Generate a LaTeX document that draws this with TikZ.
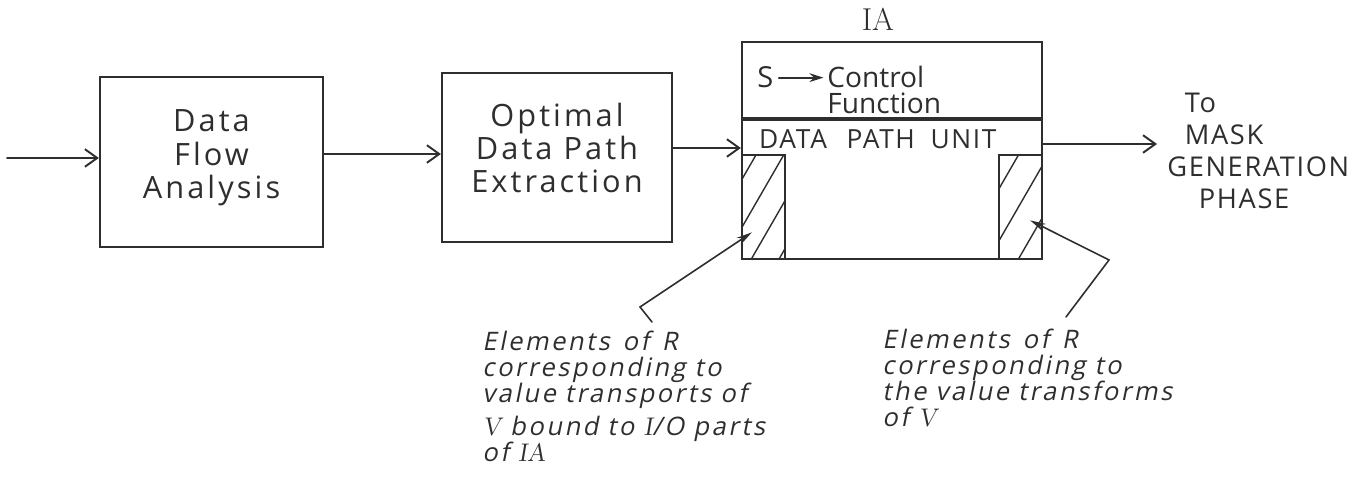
\documentclass[tikz,border=0pt]{standalone}
\usepackage{fontspec}
\usepackage{tikz}
\usetikzlibrary{arrows.meta, positioning, calc}
\newfontfamily\lettering{Open Sans}
\newfontfamily\slantlettering[FakeSlant=0.2]{Open Sans}
\newcommand\romanslant[1]{{\rmfamily\slshape #1}}
\definecolor{InkGray}{HTML}{2E2E2E}

\begin{document}
\begin{tikzpicture}[x=0.02cm, y=-0.02cm, line cap=round,
    every node/.style={inner sep=0pt, text=InkGray},
    stage/.style={draw=InkGray, line width=1.3pt, minimum width=#1, minimum height=3.4cm,
        align=center, font={\lettering\addfontfeatures{LetterSpace=10}\fontsize{17.5}{19}\selectfont}},
    part/.style={draw=InkGray, line width=1.3pt, minimum width=6cm, minimum height=#1},
    strip/.style={draw=InkGray, line width=1.1pt, minimum width=0.86cm, minimum height=2.08cm,
        path picture={\foreach \k in {#1}
            \draw[InkGray, line width=0.8pt] ([yshift=-\k*0.02cm]path picture bounding box.north west)
                ++(240:2cm) -- ++(60:6cm);}},
    flow/.style={draw=InkGray, line width=1.1pt, -{Straight Barb[length=7pt,width=10pt]}},
    lead/.style={draw=InkGray, line width=0.9pt, -{Stealth[length=9pt,width=4.5pt]}},
    note/.style={align=left, font={\slantlettering\addfontfeatures{LetterSpace=10}\fontsize{14.5}{14.8}\selectfont}},
]
\useasboundingbox (0,0) rectangle (1367,479);

\node[stage=4.46cm, text depth=9pt] (box1) at (211.5,162) {Data\\Flow\\Analysis};
\node[stage=4.6cm, minimum height=3.38cm, text depth=11pt] (box2) at (557,157.5) {Optimal\\Data Path\\Extraction};

\node[part=1.52cm] (ctrl) at (892,80) {};
\node[part=2.78cm, below=0pt of ctrl] (dpu) {};
\node[above=5.5pt of ctrl, xshift=-0.28cm, font=\fontsize{18}{18}\selectfont] (ialbl) {IA};

\node[anchor=base west, font={\lettering\fontsize{16.5}{14}\selectfont}] (sym) at (757,88) {S};
\node[anchor=north west, align=left, font={\lettering\fontsize{16}{14.8}\selectfont}] (ctl) at (827,66) {Control\\Function};
\draw[InkGray, line width=1pt, -{Stealth[length=8pt,width=5pt]}, shorten <=3pt, shorten >=2pt]
    (sym.east) -- (sym.east -| ctl.west);
\node[below right=0.2cm and 0.36cm of dpu.north west,
      font={\lettering\addfontfeatures{LetterSpace=6}\fontsize{15}{15}\selectfont}] (dpt)
    {DATA\hspace{.75em}PATH\hspace{.6em}UNIT};

\node[strip={24,72,120,168}, anchor=south west] (lstrip) at (dpu.south west) {};
\node[strip={33,85,137,189}, anchor=south east] (rstrip) at (dpu.south east) {};

\coordinate (in) at (7,158);
\coordinate (out) at (1157,144);
\draw[flow] (in) -- (in -| box1.west);
\draw[flow] (box1.east |- 0,154) -- (box2.west |- 0,154);
\draw[flow] (box2.east |- 0,148) -- (dpu.west |- 0,148);
\draw[flow] (dpu.east |- out) -- (out);

\node[anchor=north west, align=left,
      font={\lettering\addfontfeatures{LetterSpace=6}\fontsize{15.5}{18.2}\selectfont}] (mask) at (1167,93)
    {\hspace*{10pt}To\\\hspace*{10pt}MASK\\GENERATION\\\hspace*{18pt}PHASE};

\node[note, anchor=north west] (lnote) at (482,331)
    {Elements\hspace{.5em}of\hspace{.5em}R\\corresponding to\\value transports of\\[4pt]
     \romanslant{V} bound to \romanslant{I}/O parts\\of \romanslant{IA}};
\node[note, anchor=north west] (rnote) at (882,329)
    {Elements\hspace{.5em}of\hspace{.5em}R\\corresponding to\\the value transforms\\of \romanslant{V}};

\coordinate (lfoot) at (652,322);
\coordinate (lbend) at (640,307);
\coordinate (rfoot) at (1066,317);
\coordinate (rbend) at (1109,260);
\draw[lead] (lfoot) -- (lbend) -- ($(lstrip.south west)+(11,-28)$);
\draw[lead] (rfoot) -- (rbend) -- ($(rstrip.south east)+(-13,-40)$);
\end{tikzpicture}
\end{document}
